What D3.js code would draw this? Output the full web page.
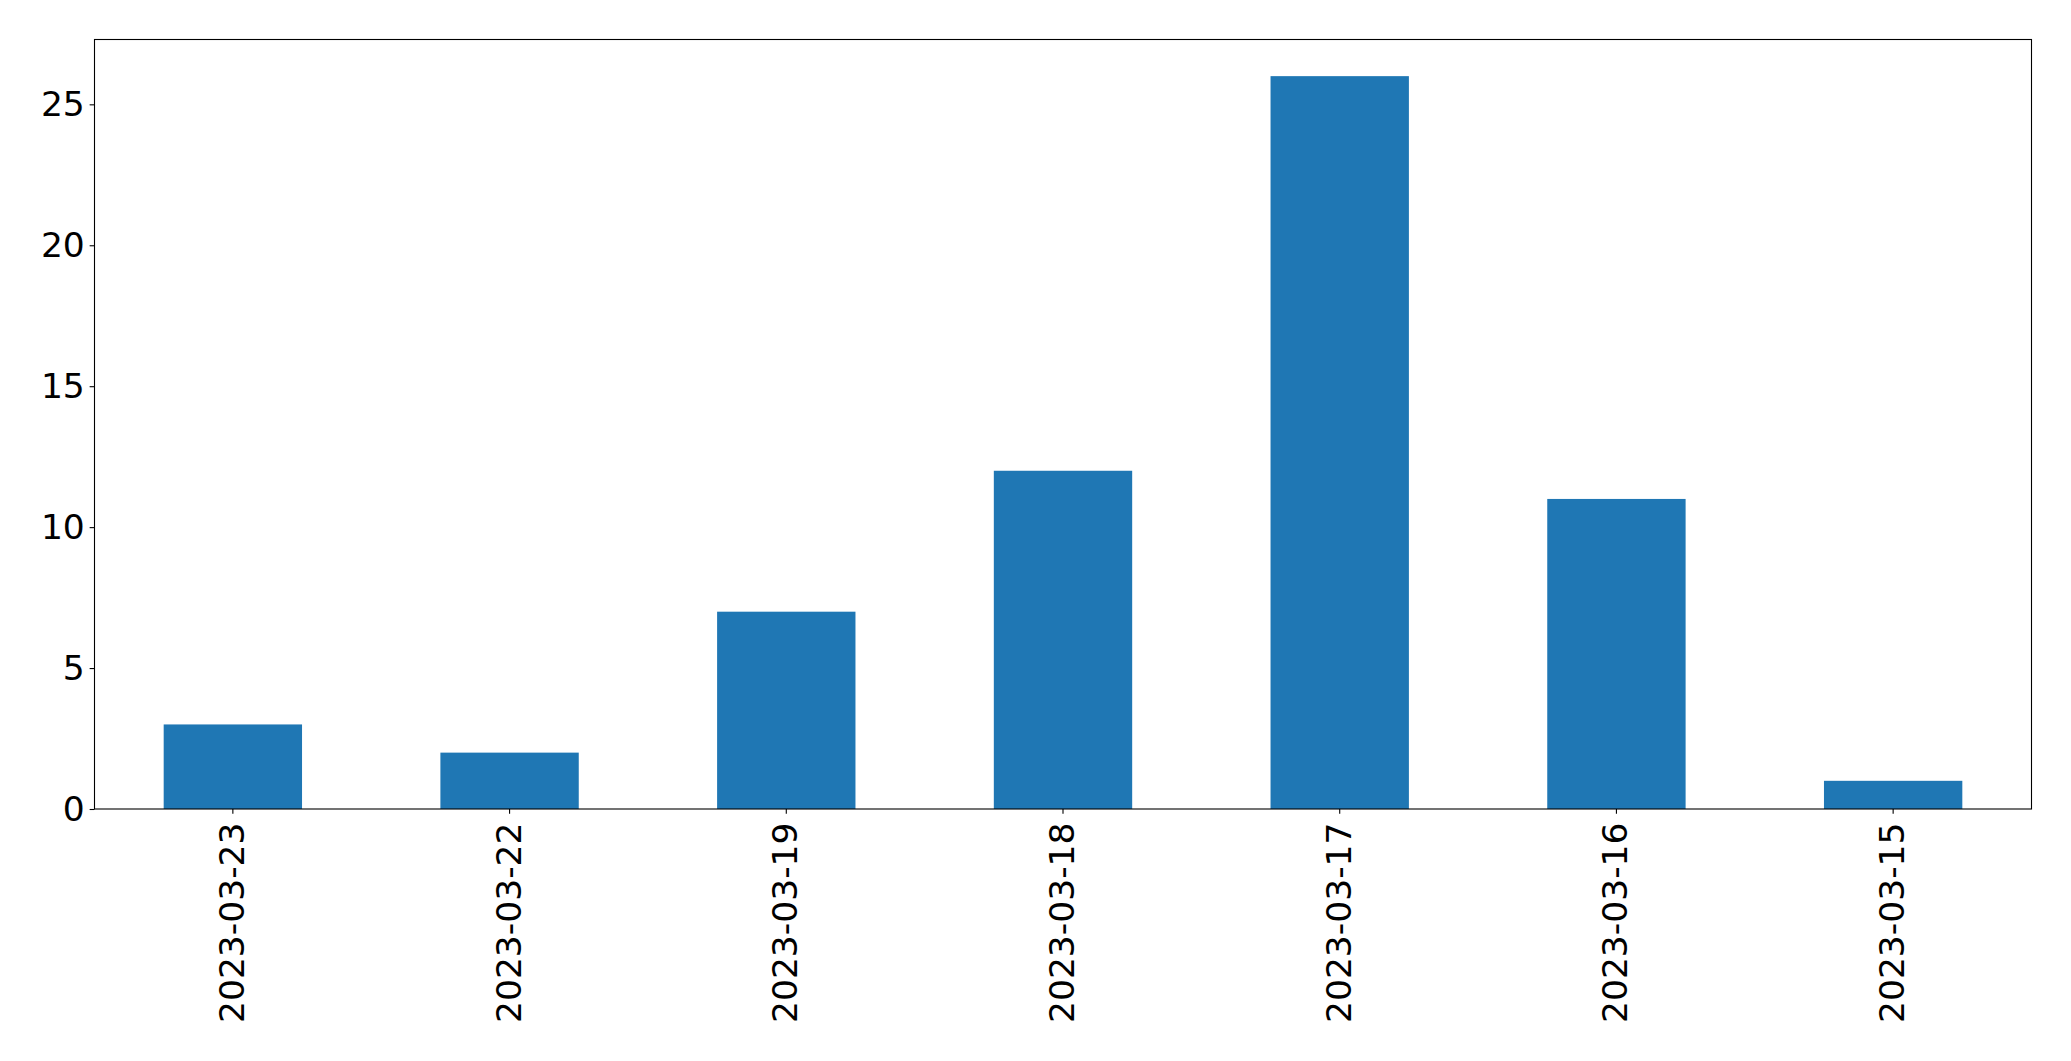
<!DOCTYPE html>
<html>
<head>
<meta charset="utf-8">
<script src="https://cdn.jsdelivr.net/npm/d3@7"></script>
<style>
  html, body { margin: 0; padding: 0; background: #fff; }
  svg { display: block; }
  text { font-family: "DejaVu Sans", sans-serif; fill: #000; }
</style>
</head>
<body>
<svg id="chart" width="2071" height="1061"></svg>
<script>
const categories = ["2023-03-23", "2023-03-22", "2023-03-19", "2023-03-18", "2023-03-17", "2023-03-16", "2023-03-15"];
const counts = [3, 2, 7, 12, 26, 11, 1];
const yTicks = [0, 5, 10, 15, 20, 25];

const W = 2071, H = 1061;
const margin = { left: 94.5, right: 2071 - 2031.5, top: 39.5, bottom: 1061 - 809 };
const fontSize = 34.5;
const tickLen = 4.86, tickPad = 4.86, lw = 1.1;

const svg = d3.select("#chart");
const iw = W - margin.left - margin.right;
const ih = H - margin.top - margin.bottom;

const x = d3.scaleBand().domain(categories).range([0, iw]).paddingInner(0.5).paddingOuter(0.25);
const y = d3.scaleLinear().domain([0, d3.max(counts) * 1.05]).range([ih, 0]);

const g = svg.append("g").attr("transform", `translate(${margin.left},${margin.top})`);

g.selectAll("rect.bar")
  .data(categories.map((c, i) => ({ c, v: counts[i] })))
  .join("rect")
  .attr("class", "bar")
  .attr("x", d => x(d.c))
  .attr("width", x.bandwidth())
  .attr("y", d => y(d.v))
  .attr("height", d => y(0) - y(d.v))
  .attr("fill", "#1f77b4");

// axes
const yAxis = g.append("g")
  .call(d3.axisLeft(y).tickValues(yTicks).tickSize(tickLen).tickPadding(tickPad).tickFormat(d3.format("d")));
yAxis.select(".domain").remove();
yAxis.selectAll(".tick line").attr("stroke", "#000").attr("stroke-width", lw);
yAxis.selectAll(".tick text").attr("font-size", fontSize).attr("font-family", "DejaVu Sans");

const xAxis = g.append("g").attr("transform", `translate(0,${ih})`)
  .call(d3.axisBottom(x).tickSize(tickLen).tickPadding(tickPad));
xAxis.select(".domain").remove();
xAxis.selectAll(".tick line").attr("stroke", "#000").attr("stroke-width", lw);
xAxis.selectAll(".tick text")
  .attr("font-size", fontSize)
  .attr("font-family", "DejaVu Sans")
  .attr("text-anchor", "end")
  .attr("dy", null)
  .attr("dominant-baseline", "central")
  .attr("x", 0)
  .attr("y", 0)
  .attr("transform", `translate(-1,13.5) rotate(-90)`);

// frame
g.append("rect")
  .attr("x", 0).attr("y", 0).attr("width", iw).attr("height", ih)
  .attr("fill", "none").attr("stroke", "#000").attr("stroke-width", lw);
</script>
</body>
</html>
